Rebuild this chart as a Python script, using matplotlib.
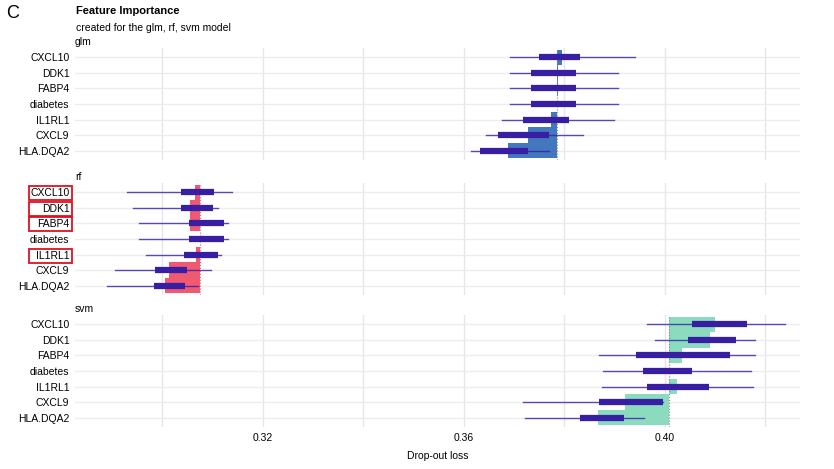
import matplotlib
matplotlib.use("Agg")
import matplotlib.pyplot as plt
from matplotlib.patches import Rectangle

features = ["CXCL10", "DDK1", "FABP4", "diabetes", "IL1RL1", "CXCL9", "HLA.DQA2"]
models = ["glm", "rf", "svm"]
baseline = {"glm": 0.3786, "rf": 0.3075, "svm": 0.4008}
mean_loss = {
    "glm": [0.3796, 0.3788, 0.3787, 0.3786, 0.3774, 0.3727, 0.3688],
    "rf":  [0.3064, 0.3055, 0.3055, 0.3075, 0.3066, 0.3013, 0.3005],
    "svm": [0.4099, 0.4089, 0.4034, 0.4008, 0.4025, 0.3920, 0.3866],
}
wmin = {
    "glm": [0.3692, 0.3692, 0.3692, 0.3692, 0.3676, 0.3644, 0.3615],
    "rf":  [0.2929, 0.2941, 0.2954, 0.2954, 0.2967, 0.2906, 0.2890],
    "svm": [0.3965, 0.3980, 0.3868, 0.3877, 0.3875, 0.3718, 0.3722],
}
wmax = {
    "glm": [0.3941, 0.3906, 0.3906, 0.3906, 0.3898, 0.3837, 0.3770],
    "rf":  [0.3139, 0.3110, 0.3130, 0.3130, 0.3116, 0.3097, 0.3071],
    "svm": [0.4239, 0.4180, 0.4180, 0.4171, 0.4175, 0.3997, 0.3959],
}
q1 = {
    "glm": [0.3749, 0.3733, 0.3733, 0.3733, 0.3717, 0.3668, 0.3633],
    "rf":  [0.3036, 0.3036, 0.3053, 0.3053, 0.3043, 0.2986, 0.2983],
    "svm": [0.4055, 0.4047, 0.3942, 0.3956, 0.3965, 0.3868, 0.3831],
}
q3 = {
    "glm": [0.3831, 0.3823, 0.3823, 0.3823, 0.3809, 0.3770, 0.3727],
    "rf":  [0.3102, 0.3100, 0.3122, 0.3122, 0.3110, 0.3048, 0.3045],
    "svm": [0.4163, 0.4141, 0.4129, 0.4054, 0.4088, 0.3997, 0.3918],
}
colors = {"glm": "#4378bf", "rf": "#f05a71", "svm": "#8bdcbe"}
highlight_rf = ["CXCL10", "DDK1", "FABP4", "IL1RL1"]

W, H = 834, 469
fig = plt.figure(figsize=(W / 100, H / 100), dpi=100)
panels = {"glm": (48, 160), "rf": (183, 295), "svm": (315, 427)}
xlim = (0.2826, 0.4269)
for m in models:
    top, bot = panels[m]
    ax = fig.add_axes([75 / W, 1 - bot / H, 725 / W, (bot - top) / H])
    n = len(features)
    ys = [n - 1 - i for i in range(n)]
    ax.set_xlim(*xlim)
    ax.set_ylim(-0.6, n - 0.4)
    for x in [0.30, 0.32, 0.34, 0.36, 0.38, 0.40, 0.42]:
        ax.axvline(x, color="#e6e6e6", lw=1, zorder=0)
    for y in ys:
        ax.axhline(y, color="#ececec", lw=1, zorder=0)
    b = baseline[m]
    for i, y in enumerate(ys):
        v = mean_loss[m][i]
        ax.barh(y, v - b, left=b, height=1.0, color=colors[m], zorder=1, lw=0)
        ax.plot([wmin[m][i], wmax[m][i]], [y, y], color="#371ea3", lw=1, alpha=0.8, zorder=2)
        ax.plot([q1[m][i], q3[m][i]], [y, y], color="#371ea3", lw=4.5, solid_capstyle="butt", zorder=3)
    ax.axvline(b, color="#f05a71" if m == "rf" else "#888888", lw=0.8, ls=":", zorder=2)
    ax.set_yticks(ys)
    ax.set_yticklabels(features, fontsize=7.5, family="Liberation Sans")
    ax.tick_params(axis="y", length=0, pad=4)
    for s in ax.spines.values():
        s.set_visible(False)
    if m == "svm":
        ax.set_xticks([0.32, 0.36, 0.40])
        ax.set_xticklabels(["0.32", "0.36", "0.40"], fontsize=7.5, family="Liberation Sans")
        ax.tick_params(axis="x", length=0, pad=4)
        ax.set_xlabel("Drop-out loss", fontsize=7.5, family="Liberation Sans", labelpad=6)
    else:
        ax.set_xticks([])
    ax.text(0, 1.01, m, transform=ax.transAxes, fontsize=7.5, family="Liberation Sans",
            ha="left", va="bottom")
    if m == "rf":
        fig.canvas.draw()
        for lab in ax.get_yticklabels():
            if lab.get_text() in highlight_rf:
                bb = lab.get_window_extent()
                x0 = 29 / W
                y0 = bb.y0 / H - 2 / H
                fig.patches.append(Rectangle((x0, y0), 43 / W, (bb.height + 4) / H,
                                             transform=fig.transFigure, fill=False,
                                             edgecolor="#e01020", lw=1.3))

fig.text(6 / W, 1 - 14 / H, "C", fontsize=13, family="Liberation Sans", va="center")
fig.text(76 / W, 1 - 11 / H, "Feature Importance", fontsize=8, fontweight="bold",
         family="Liberation Sans", va="center")
fig.text(76 / W, 1 - 28 / H, "created for the glm, rf, svm model", fontsize=7.5,
         family="Liberation Sans", va="center")
fig.savefig("out.png", dpi=100)
